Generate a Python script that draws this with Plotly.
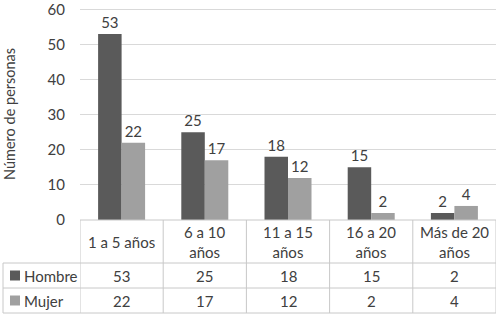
import plotly.graph_objects as go

categories = ["1 a 5 años", "6 a 10 años", "11 a 15 años", "16 a 20 años", "Más de 20 años"]
header_labels = ["1 a 5 años", "6 a 10<br>años", "11 a 15<br>años", "16 a 20<br>años", "Más de 20<br>años"]
hombre = [53, 25, 18, 15, 2]
mujer = [22, 17, 12, 2, 4]
y_ticks = [0, 10, 20, 30, 40, 50, 60]

series = [("Hombre", hombre, "#5a5a5a"), ("Mujer", mujer, "#a0a0a0")]

FONT = "Lato"
TXT = "#404040"
GRID = "#d9d9d9"
LINE = "#c8c8c8"
FS = 15

W, H = 500, 315
ML, MR, MT, MB = 80, 4, 8, 95
pw = W - ML - MR
ph = H - MT - MB

def py(px_from_axis):
    return -px_from_axis / ph

def pxp(px):
    return (px - ML) / pw

xs = list(range(len(categories)))
fig = go.Figure()
for name, vals, col in series:
    fig.add_trace(go.Bar(
        x=xs, y=vals, name=name, marker_color=col, marker_line_width=0,
        text=[str(v) for v in vals], textposition="outside",
        textfont=dict(family=FONT, size=FS, color=TXT), cliponaxis=False,
        hoverinfo="skip",
    ))

header_b = py(43)
row1_b = py(68)
row2_b = py(93)
left = pxp(3)

shapes = []
for i in range(len(categories) + 1):
    shapes.append(dict(type="line", xref="x", yref="paper", x0=i - 0.5, x1=i - 0.5,
                       y0=0, y1=row2_b, line=dict(color=LINE, width=1)))
shapes.append(dict(type="line", xref="paper", yref="paper", x0=left, x1=left,
                   y0=header_b, y1=row2_b, line=dict(color=LINE, width=1)))
for yy in [header_b, row1_b, row2_b]:
    shapes.append(dict(type="line", xref="paper", yref="paper", x0=left, x1=1,
                       y0=yy, y1=yy, line=dict(color=LINE, width=1)))
shapes.append(dict(type="line", xref="paper", yref="paper", x0=0, x1=1, y0=0, y1=0,
                   line=dict(color=LINE, width=1)))

annotations = []
for i, lab in enumerate(header_labels):
    annotations.append(dict(x=i, xref="x", y=(0 + header_b) / 2, yref="paper",
                            text=lab, showarrow=False, xanchor="center", yanchor="middle",
                            font=dict(family=FONT, size=FS, color=TXT)))
row_centers = [(header_b + row1_b) / 2, (row1_b + row2_b) / 2]
for (name, vals, col), yc in zip(series, row_centers):
    shapes.append(dict(type="rect", xref="paper", yref="paper",
                       x0=pxp(10), x1=pxp(20), y0=yc - 5 / ph, y1=yc + 5 / ph,
                       fillcolor=col, line=dict(width=0)))
    annotations.append(dict(x=pxp(22), xref="paper", y=yc, yref="paper", text=name,
                            showarrow=False, xanchor="left", yanchor="middle",
                            font=dict(family=FONT, size=FS, color=TXT)))
    for i, v in enumerate(vals):
        annotations.append(dict(x=i, xref="x", y=yc, yref="paper", text=str(v),
                                showarrow=False, xanchor="center", yanchor="middle",
                                font=dict(family=FONT, size=FS, color=TXT)))

annotations.append(dict(x=pxp(9), xref="paper", y=0.5, yref="paper",
                        text="Número de personas", textangle=-90, showarrow=False,
                        xanchor="center", yanchor="middle",
                        font=dict(family=FONT, size=14.5, color=TXT)))

fig.update_layout(
    width=W, height=H,
    margin=dict(l=ML, r=MR, t=MT, b=MB, autoexpand=False),
    paper_bgcolor="white", plot_bgcolor="white",
    barmode="group", bargap=0.435, bargroupgap=0,
    showlegend=False,
    shapes=shapes, annotations=annotations,
    xaxis=dict(range=[-0.5, len(categories) - 0.5], showticklabels=False,
               showgrid=False, zeroline=False, showline=False, ticks=""),
    yaxis=dict(range=[0, 60.4], tickvals=y_ticks, showgrid=True, gridcolor=GRID,
               gridwidth=1, zeroline=False, showline=False, ticks="",
               ticklabelstandoff=14, ticklabeloverflow="allow",
               tickfont=dict(family=FONT, size=FS, color=TXT)),
)

fig.write_html("out.html", config={"displayModeBar": False},
               post_script="document.body.style.margin='0';document.body.style.overflow='hidden';")
